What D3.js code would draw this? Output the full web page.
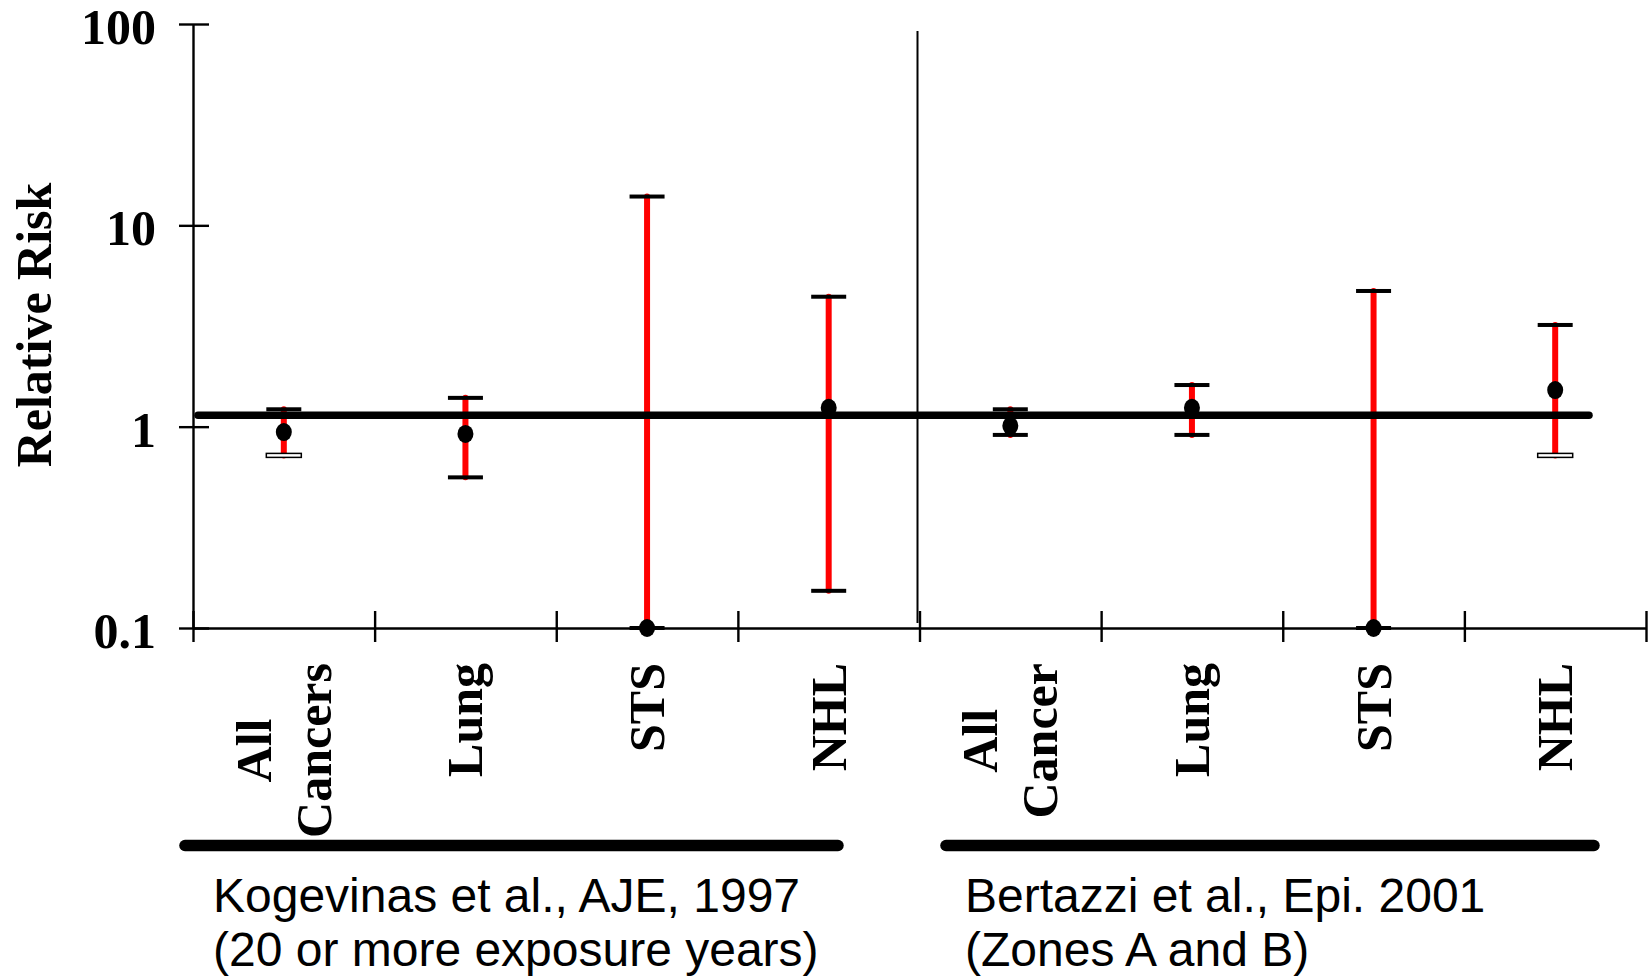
<!DOCTYPE html>
<html>
<head>
<meta charset="utf-8">
<script src="https://cdn.jsdelivr.net/npm/d3@7"></script>
<style>
    body { margin: 0; background: white; }
    .serif { font-family: "Liberation Serif", "Times New Roman", serif; font-weight: bold; }
    .sans { font-family: "Liberation Sans", Arial, sans-serif; }
</style>
</head>
<body>
<svg id="chart" width="1652" height="977"></svg>
<script>
// cancer sites, two studies of four sites each
const labels = [
    ["All", "Cancers"], ["Lung"], ["STS"], ["NHL"],
    ["All", "Cancer"], ["Lung"], ["STS"], ["NHL"]
];
const rr    = [0.94, 0.92, 0.1, 1.24, 1.01, 1.24, 0.1, 1.52];
const lower = [0.72, 0.56, 0.1, 0.153, 0.91, 0.91, 0.1, 0.72];
const upper = [1.22, 1.39, 13.9, 4.42, 1.22, 1.61, 4.72, 3.2];

const yTicks = [0.1, 1, 10, 100];
const refValue = 1.14;

const studies = [
    ["Kogevinas et al., AJE, 1997", "(20 or more exposure years)"],
    ["Bertazzi et al., Epi. 2001", "(Zones A and B)"]
];

// layout
const X0 = 193, X1 = 1646;
const Y0 = 628, Y1 = 24;
const CAP_W = 35;
const LINE_H = 60;

const svg = d3.select("#chart");

const x = d3.scaleLinear().domain([0, labels.length]).range([X0, X1]);
const y = d3.scaleLog().domain([0.1, 100]).range([Y0, Y1]);
const cx = i => x(i + 0.5);

// y axis, ticks cross the line
const yAxis = svg.append("g")
    .attr("transform", `translate(${X0},0)`)
    .call(d3.axisLeft(y).tickValues(yTicks).tickFormat(d => d).tickSizeOuter(0));
yAxis.select(".domain").attr("stroke-width", 2.4);
yAxis.selectAll(".tick line").attr("x1", -14).attr("x2", 16).attr("stroke-width", 2.4);
yAxis.selectAll(".tick text")
    .attr("class", "serif")
    .attr("x", -37)
    .attr("dy", "0.39em")
    .style("font-size", "50px")
    .attr("fill", "black");

// x axis, ticks at band edges
const xAxis = svg.append("g")
    .attr("transform", `translate(0,${Y0})`)
    .call(d3.axisBottom(x).tickValues(d3.range(labels.length + 1)).tickFormat("").tickSizeOuter(0));
xAxis.select(".domain").attr("stroke-width", 2.4);
xAxis.selectAll(".tick line").attr("y1", -17).attr("y2", 14).attr("stroke-width", 2.4);

// divider between the two studies
svg.append("line")
    .attr("x1", x(4) - 2).attr("x2", x(4) - 2)
    .attr("y1", 31).attr("y2", 623)
    .attr("stroke", "black")
    .attr("stroke-width", 2);

// confidence intervals
svg.append("g")
    .selectAll("line")
    .data(d3.range(labels.length))
    .join("line")
    .attr("x1", cx).attr("x2", cx)
    .attr("y1", i => y(lower[i]))
    .attr("y2", i => y(upper[i]))
    .attr("stroke", "#ff0000")
    .attr("stroke-width", 6)
    .attr("stroke-linecap", "round");

// reference line
svg.append("line")
    .attr("x1", 198).attr("x2", 1589)
    .attr("y1", y(refValue)).attr("y2", y(refValue))
    .attr("stroke", "black")
    .attr("stroke-width", 7.5)
    .attr("stroke-linecap", "round");

// caps (two lower caps come out hollow in the original)
const hollow = new Set([0, 7]);
const caps = [];
d3.range(labels.length).forEach(i => {
    caps.push({i: i, v: upper[i], hollow: false});
    caps.push({i: i, v: lower[i], hollow: hollow.has(i)});
});
svg.append("g")
    .selectAll("rect")
    .data(caps)
    .join("rect")
    .attr("x", d => cx(d.i) - CAP_W / 2)
    .attr("y", d => y(d.v) - 2)
    .attr("width", CAP_W)
    .attr("height", 4)
    .attr("fill", d => d.hollow ? "white" : "black")
    .attr("stroke", d => d.hollow ? "black" : "none")
    .attr("stroke-width", 1.5);

// point estimates
svg.append("g")
    .selectAll("ellipse")
    .data(d3.range(labels.length))
    .join("ellipse")
    .attr("cx", cx)
    .attr("cy", i => y(rr[i]))
    .attr("rx", 8)
    .attr("ry", 9)
    .attr("fill", "black");

// category labels, rotated, top end aligned
const lab = svg.append("g")
    .selectAll("g")
    .data(labels)
    .join("g")
    .attr("transform", (d, i) => `translate(${cx(i)},663) rotate(-90)`);

lab.each(function(lines) {
    const g = d3.select(this);
    const off = 17 - (lines.length - 1) * LINE_H / 2;
    const t = g.selectAll("text")
        .data(lines)
        .join("text")
        .attr("class", "serif")
        .style("font-size", "50px")
        .attr("y", (d, j) => off + j * LINE_H)
        .text(d => d);
    let maxLen = 0;
    t.each(function() { maxLen = Math.max(maxLen, this.getComputedTextLength()); });
    t.attr("text-anchor", "middle").attr("x", -maxLen / 2);
});

// y axis title
svg.append("text")
    .attr("class", "serif")
    .attr("transform", "translate(51,325) rotate(-90)")
    .attr("text-anchor", "middle")
    .style("font-size", "50px")
    .text("Relative Risk");

// study brackets and captions
const brackets = [[179, 844], [940, 1600]];
const captionX = [213, 965];

svg.append("g")
    .selectAll("line")
    .data(brackets)
    .join("line")
    .attr("x1", d => d[0] + 6).attr("x2", d => d[1] - 6)
    .attr("y1", 845.5).attr("y2", 845.5)
    .attr("stroke", "black")
    .attr("stroke-width", 11.5)
    .attr("stroke-linecap", "round");

studies.forEach((lines, k) => {
    svg.append("g")
        .selectAll("text")
        .data(lines)
        .join("text")
        .attr("class", "sans")
        .attr("x", captionX[k])
        .attr("y", (d, j) => 912 + j * 54)
        .style("font-size", "48px")
        .text(d => d);
});
</script>
</body>
</html>
